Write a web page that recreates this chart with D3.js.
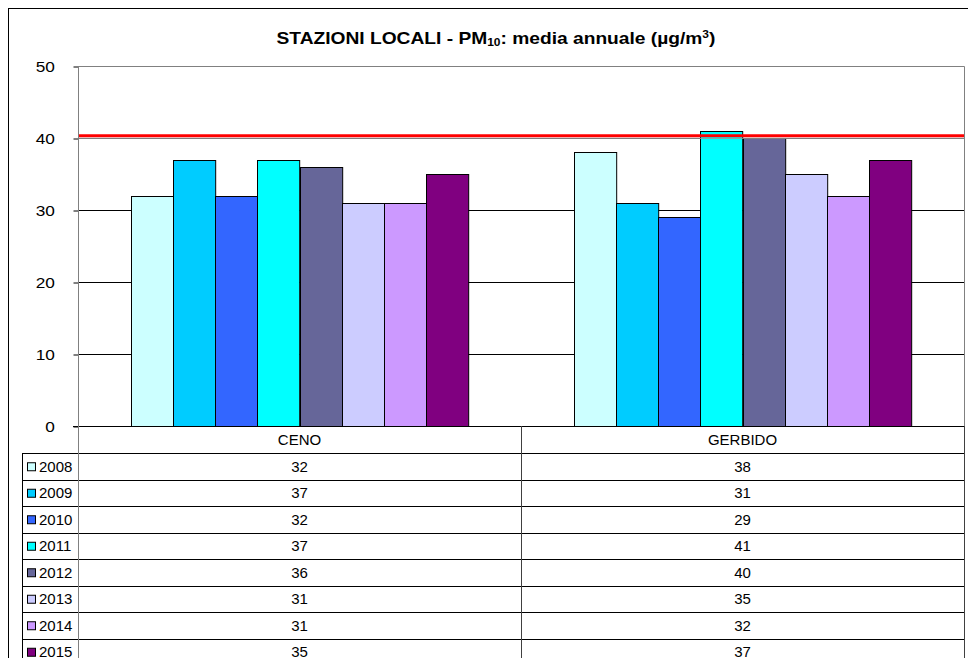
<!DOCTYPE html>
<html>
<head>
<meta charset="utf-8">
<script src="https://cdn.jsdelivr.net/npm/d3@7"></script>
<style>
  html, body { margin: 0; padding: 0; background: #fff; }
  svg { display: block; }
  text { font-family: "Liberation Sans", Arial, sans-serif; fill: #000; }
</style>
</head>
<body>
<svg id="chart" width="968" height="658"></svg>
<script>
// ---- data ----
const categories = ["CENO", "GERBIDO"];
const years = ["2008", "2009", "2010", "2011", "2012", "2013", "2014", "2015"];
const cenoValues = [32, 37, 32, 37, 36, 31, 31, 35];
const gerbidoValues = [38, 31, 29, 41, 40, 35, 32, 37];
const yearColors = ["#CCFFFF", "#00CCFF", "#3366FF", "#00FFFF", "#666699", "#CCCCFF", "#CC99FF", "#800080"];
const yTicks = [0, 10, 20, 30, 40, 50];
const limitValue = 40.3;
const titleMain = "STAZIONI LOCALI - PM";
const titleSub = "10";
const titleRest = ": media annuale (µg/m";
const titleSup = "3";

// ---- layout ----
const svg = d3.select("#chart");
const plot = { left: 78, right: 964, top: 66, bottom: 426 };
const table = { left: 22, headerTop: 426, rowsTop: 453, rowH: 26.5 };

const valuesByCat = { CENO: cenoValues, GERBIDO: gerbidoValues };
const series = years.map((yr, i) => ({
  year: yr, color: yearColors[i],
  values: categories.map(c => ({ cat: c, value: valuesByCat[c][i] }))
}));

const x = d3.scaleBand().domain(categories).range([plot.left, plot.right]).padding(0);
const xi = d3.scaleBand().domain(years).range([0, x.bandwidth()]).paddingInner(0).paddingOuter(1.25);
const y = d3.scaleLinear().domain([0, 50]).range([plot.bottom, plot.top]);

// outer frame
svg.append("rect").attr("x", 8.5).attr("y", 8.5).attr("width", 975).attr("height", 680)
  .attr("fill", "#fff").attr("stroke", "#000").attr("stroke-width", 1);

// title
const title = svg.append("text")
  .attr("transform", "translate(496,44) scale(1.2,1)")
  .attr("text-anchor", "middle")
  .attr("font-size", 16).attr("font-weight", "bold");
title.append("tspan").text(titleMain);
title.append("tspan").attr("font-size", 10).attr("dy", 2).text(titleSub);
title.append("tspan").attr("dy", -2).text(titleRest);
title.append("tspan").attr("font-size", 10).attr("dy", -6).text(titleSup);
title.append("tspan").attr("dy", 6).text(")");

// gridlines
svg.append("g").selectAll("line").data(yTicks.filter(t => t > 0 && t < 50)).join("line")
  .attr("x1", plot.left).attr("x2", plot.right)
  .attr("y1", d => Math.round(y(d)) + 0.5).attr("y2", d => Math.round(y(d)) + 0.5)
  .attr("stroke", "#000").attr("stroke-width", 1);

// plot border (top/right gray)
svg.append("path")
  .attr("d", `M${plot.left},${plot.top + 0.5}H${plot.right + 0.5}V${plot.bottom}`)
  .attr("fill", "none").attr("stroke", "#808080").attr("stroke-width", 1);

// y axis
const yAxis = d3.axisLeft(y).tickValues(yTicks).tickSize(5).tickPadding(6);
const ya = svg.append("g").attr("transform", `translate(${plot.left + 0.5},0.5)`).call(yAxis);
ya.select(".domain").remove();
ya.selectAll(".tick line").attr("stroke", "#000");
ya.selectAll(".tick text").attr("font-size", 15)
  .attr("font-family", "'Liberation Sans', Arial, sans-serif").attr("fill", "#000")
  .attr("transform", "translate(-11,0) scale(1.15,1)");

// bars
const groups = svg.append("g").selectAll("g").data(series).join("g");
groups.selectAll("rect").data(s => s.values.map(v => ({ ...v, year: s.year, color: s.color }))).join("rect")
  .attr("x", d => Math.round(x(d.cat) + xi(d.year)) + 0.5)
  .attr("y", d => Math.round(y(d.value)) + 0.5)
  .attr("width", xi.bandwidth())
  .attr("height", d => Math.round(y(0)) - Math.round(y(d.value)))
  .attr("fill", d => d.color)
  .attr("stroke", "#000").attr("stroke-width", 1);

// zero line
svg.append("line").attr("x1", plot.left - 5).attr("x2", plot.right)
  .attr("y1", Math.round(y(0)) + 0.5).attr("y2", Math.round(y(0)) + 0.5)
  .attr("stroke", "#000");

// limit line
svg.append("line").attr("x1", plot.left).attr("x2", plot.right)
  .attr("y1", y(limitValue) + 2.5).attr("y2", y(limitValue) + 2.5)
  .attr("stroke", "#999").attr("stroke-width", 1);
svg.append("line").attr("x1", plot.left).attr("x2", plot.right)
  .attr("y1", y(limitValue)).attr("y2", y(limitValue))
  .attr("stroke", "#FF0000").attr("stroke-width", 3);

// ---- data table ----
const tg = svg.append("g");
const rowsBottom = table.rowsTop + table.rowH * years.length;
// header labels
tg.selectAll("text.cat").data(categories).join("text").attr("class", "cat")
  .attr("x", d => x(d) + x.bandwidth() / 2).attr("y", (table.headerTop + table.rowsTop) / 2 + 5)
  .attr("text-anchor", "middle").attr("font-size", 15).text(d => d);
// horizontal row lines
const hLines = d3.range(years.length + 1).map(i => table.rowsTop + i * table.rowH);
tg.selectAll("line.h").data(hLines).join("line").attr("class", "h")
  .attr("x1", table.left).attr("x2", plot.right)
  .attr("y1", d => Math.round(d) + 0.5).attr("y2", d => Math.round(d) + 0.5)
  .attr("stroke", "#000");
// vertical lines
tg.append("line").attr("x1", table.left + 0.5).attr("x2", table.left + 0.5)
  .attr("y1", table.rowsTop).attr("y2", rowsBottom).attr("stroke", "#000");
tg.append("line").attr("x1", plot.left + 0.5).attr("x2", plot.left + 0.5)
  .attr("y1", plot.top).attr("y2", rowsBottom).attr("stroke", "#808080");
categories.forEach(c => {
  const xr = Math.round(x(c) + x.bandwidth()) + 0.5;
  tg.append("line").attr("x1", xr).attr("x2", xr)
    .attr("y1", table.headerTop).attr("y2", rowsBottom).attr("stroke", "#404040");
});
// rows
const rows = tg.selectAll("g.row").data(series).join("g").attr("class", "row")
  .attr("transform", (d, i) => `translate(0,${table.rowsTop + i * table.rowH})`);
rows.append("rect").attr("x", 27.5).attr("y", table.rowH / 2 - 4 + 0.5)
  .attr("width", 8).attr("height", 8)
  .attr("fill", d => d.color).attr("stroke", "#000").attr("stroke-width", 1);
rows.append("text").attr("x", 39).attr("y", table.rowH / 2 + 5.5)
  .attr("font-size", 15).text(d => d.year);
rows.selectAll("text.val").data(d => d.values).join("text").attr("class", "val")
  .attr("x", d => x(d.cat) + x.bandwidth() / 2).attr("y", table.rowH / 2 + 5.5)
  .attr("text-anchor", "middle").attr("font-size", 15).text(d => d.value);
</script>
</body>
</html>
